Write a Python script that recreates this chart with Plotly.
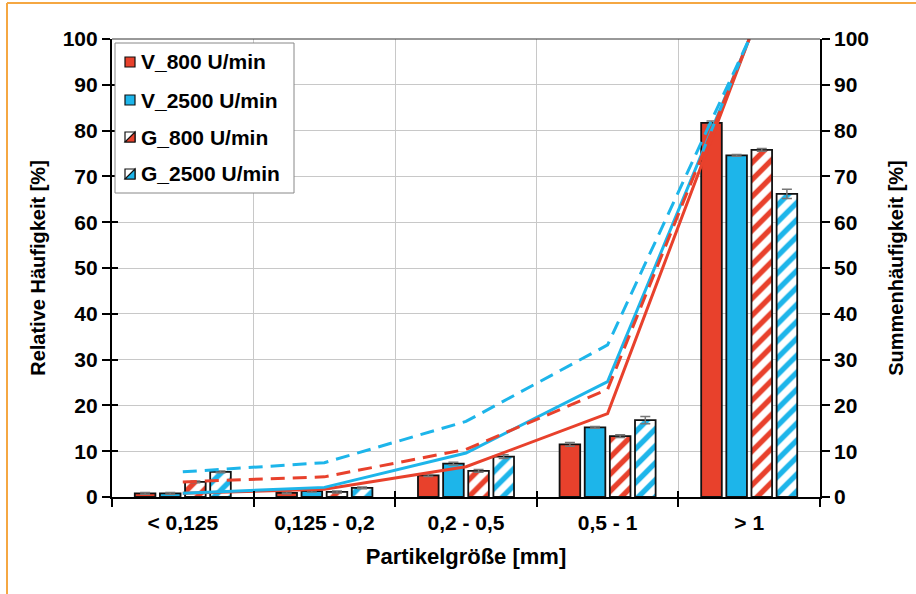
import plotly.graph_objects as go

categories = ["< 0,125", "0,125 - 0,2", "0,2 - 0,5", "0,5 - 1", "> 1"]

# relative frequency (bars) [%]
v800 = [0.8, 0.9, 4.7, 11.5, 81.7]
v2500 = [0.8, 1.3, 7.3, 15.2, 74.6]
g800 = [3.3, 1.1, 5.7, 13.3, 75.8]
g2500 = [5.5, 2.0, 8.8, 16.8, 66.2]

# error bars
v800_err = [0.2, 0.2, 0.2, 0.4, 0.4]
v2500_err = [0.2, 0.2, 0.3, 0.2, 0.2]
g800_err = [0.2, 0.2, 0.3, 0.3, 0.3]
g2500_err = [0.2, 0.2, 0.4, 0.8, 1.0]

# cumulative frequency (lines) [%]
v800_cum = [0.8, 1.7, 6.6, 18.2, 100]
v2500_cum = [0.8, 2.1, 9.6, 25.2, 100]
g800_cum = [3.3, 4.4, 10.4, 23.5, 100]
g2500_cum = [5.5, 7.5, 16.5, 33.2, 100]

names = ["V_800 U/min", "V_2500 U/min", "G_800 U/min", "G_2500 U/min"]

RED = "#E8412C"
BLUE = "#1DB5EA"
FONT = "Liberation Sans"

# plot area in pixels (for the hand-drawn legend)
L, R, T, B = 112, 820, 39, 497
def px(x):
    return (x - L) / (R - L)
def py(y):
    return (B - y) / (B - T)

fig = go.Figure()

bar_sets = [
    (v800, v800_err, RED, False),
    (v2500, v2500_err, BLUE, False),
    (g800, g800_err, RED, True),
    (g2500, g2500_err, BLUE, True),
]
for i, (vals, errs, col, hatched) in enumerate(bar_sets):
    marker = dict(line=dict(color="#111111", width=1.8))
    if hatched:
        marker["color"] = "white"
        marker["pattern"] = dict(shape="/", fgcolor=col, bgcolor="white",
                                 size=12, solidity=0.45, fillmode="replace", fgopacity=1)
    else:
        marker["color"] = col
    fig.add_trace(go.Bar(
        x=categories, y=vals, name=names[i], marker=marker,
        showlegend=False,
        error_y=dict(type="data", array=errs, visible=True,
                     color="#777777", thickness=1.5, width=5),
        yaxis="y",
    ))

line_sets = [
    (v800_cum, RED, "solid"),
    (v2500_cum, BLUE, "solid"),
    (g800_cum, RED, "14px,8px"),
    (g2500_cum, BLUE, "14px,8px"),
]
for i, (vals, col, dash) in enumerate(line_sets):
    fig.add_trace(go.Scatter(
        x=categories, y=vals, mode="lines", name=names[i] + " Summe",
        line=dict(color=col, width=3, dash=dash),
        yaxis="y2", showlegend=False, cliponaxis=False,
    ))

# empty trace so the overlay axes (inner halves of crossing ticks) are drawn
fig.add_trace(go.Scatter(x=[], y=[], xaxis="x2", yaxis="y3", showlegend=False,
                         hoverinfo="skip"))

# hand-drawn legend
shapes = [
    dict(type="rect", xref="paper", yref="paper", x0=px(115), x1=px(294), y0=py(193), y1=py(43),
         fillcolor="white", line=dict(color="#888888", width=1), layer="above"),
]
annotations = []
legend_cols = [RED, BLUE, RED, BLUE]
legend_hatched = [False, False, True, True]
legend_y = [62, 100, 137, 174]
for i in range(4):
    yc = legend_y[i]
    x0, x1, y0, y1 = 125, 135, yc - 5, yc + 5
    if legend_hatched[i]:
        shapes.append(dict(type="rect", xref="paper", yref="paper",
                           x0=px(x0), x1=px(x1), y0=py(y1), y1=py(y0),
                           fillcolor="white", line=dict(color="#111111", width=1.2), layer="above"))
        path = f"M {px(x0)},{py(y1)} L {px(x1)},{py(y1)} L {px(x1)},{py(y0)} Z"
        shapes.append(dict(type="path", xref="paper", yref="paper", path=path,
                           fillcolor=legend_cols[i], line=dict(color="#111111", width=1.2), layer="above"))
    else:
        shapes.append(dict(type="rect", xref="paper", yref="paper",
                           x0=px(x0), x1=px(x1), y0=py(y1), y1=py(y0),
                           fillcolor=legend_cols[i], line=dict(color="#111111", width=1.2), layer="above"))
    annotations.append(dict(xref="paper", yref="paper", x=px(139), y=py(yc),
                            xanchor="left", yanchor="middle", showarrow=False,
                            text=f"<b>{names[i]}</b>",
                            font=dict(family=FONT, size=21, color="black")))

shapes += [
    dict(type="line", xref="paper", yref="paper", x0=0, x1=1, y0=1, y1=1,
         line=dict(color="#333333", width=1)),
    dict(type="line", xref="paper", yref="paper", x0=px(7), x1=px(916), y0=py(3), y1=py(3),
         line=dict(color="#F5A742", width=2)),
    dict(type="line", xref="paper", yref="paper", x0=px(7), x1=px(7), y0=py(594), y1=py(3),
         line=dict(color="#F5A742", width=2)),
]

fig.update_layout(
    width=916, height=594,
    margin=dict(l=L, r=916 - R, t=T, b=594 - B),
    paper_bgcolor="white", plot_bgcolor="white",
    font=dict(family=FONT, size=20, color="black"),
    barmode="group", bargap=0.29, bargroupgap=0.18,
    showlegend=False,
    xaxis=dict(
        showgrid=True, gridcolor="#C8C8C8", gridwidth=1,
        showline=True, linecolor="black", linewidth=2.2,
        ticks="outside", ticklen=8, tickwidth=2, tickcolor="black",
        tickson="boundaries", ticklabelstandoff=6,
        tickfont=dict(family=FONT, size=21, color="black", weight="bold"),
        title=dict(text="<b>Partikelgröße [mm]</b>", font=dict(family=FONT, size=22), standoff=15),
    ),
    xaxis2=dict(
        overlaying="x", side="bottom", anchor="y3", range=[-0.5, 4.5],
        tickvals=[-0.5, 0.5, 1.5, 2.5, 3.5, 4.5], showticklabels=False,
        ticks="inside", ticklen=6, tickwidth=2, tickcolor="black",
        showgrid=False, showline=False, zeroline=False, fixedrange=True,
    ),
    yaxis=dict(
        range=[0, 100], dtick=10,
        showgrid=True, gridcolor="#C8C8C8", gridwidth=1,
        showline=True, linecolor="black", linewidth=2.2,
        ticks="outside", ticklen=8, tickwidth=2, tickcolor="black",
        tickfont=dict(family=FONT, size=21, color="black", weight="bold"),
        zeroline=False,
        title=dict(text="<b>Relative Häufigkeit [%]</b>", font=dict(family=FONT, size=20), standoff=12),
    ),
    yaxis2=dict(
        range=[0, 100], dtick=10, overlaying="y", side="right",
        showgrid=False, showline=True, linecolor="black", linewidth=1.6,
        ticks="outside", ticklen=8, tickwidth=1.6, tickcolor="black",
        tickfont=dict(family=FONT, size=21, color="black", weight="bold"),
        zeroline=False,
        title=dict(text="<b>Summenhäufigkeit [%]</b>", font=dict(family=FONT, size=20), standoff=21),
    ),
    yaxis3=dict(
        range=[0, 100], dtick=10, overlaying="y", side="left", anchor="x2",
        showticklabels=False, ticks="inside", ticklen=6, tickwidth=2, tickcolor="black",
        showgrid=False, showline=False, zeroline=False, fixedrange=True,
    ),
    shapes=shapes,
    annotations=annotations,
)

fig.write_html("out.html")
